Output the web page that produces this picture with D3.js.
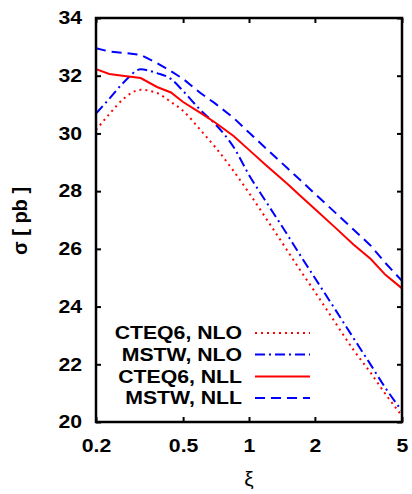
<!DOCTYPE html>
<html>
<head>
<meta charset="utf-8">
<script src="https://cdn.jsdelivr.net/npm/d3@7"></script>
<style>
  body { margin: 0; background: #fff; }
  text { font-family: "Liberation Sans", Arial, sans-serif; }
</style>
</head>
<body>
<div id="chart"></div>
<script>
var width = 412
var height = 494

// data
var xi = [0.2, 0.23, 0.27, 0.32, 0.38, 0.44, 0.5, 0.6, 0.7, 0.85, 1, 1.2, 1.5, 1.7, 2, 2.5, 3, 3.6, 4.2, 5]
var cteqNLO = [30.12, 30.67, 31.23, 31.51, 31.40, 31.09, 30.78, 30.12, 29.53, 28.70, 27.94, 27.04, 25.93, 25.30, 24.51, 23.40, 22.50, 21.70, 20.97, 20.21]
var mstwNLO = [30.69, 31.20, 31.80, 32.22, 32.09, 31.89, 31.47, 30.81, 30.33, 29.53, 28.56, 27.62, 26.48, 25.82, 24.99, 23.85, 22.91, 21.98, 21.18, 20.38]
var cteqNLL = [32.23, 32.06, 31.99, 31.92, 31.61, 31.42, 31.09, 30.71, 30.38, 29.91, 29.43, 28.89, 28.25, 27.87, 27.38, 26.71, 26.15, 25.65, 25.10, 24.63]
var mstwNLL = [32.95, 32.84, 32.79, 32.72, 32.44, 32.16, 31.89, 31.40, 31.04, 30.54, 30.03, 29.47, 28.79, 28.41, 27.91, 27.23, 26.67, 26.11, 25.51, 24.89]

var xTicks = [0.2, 0.5, 1, 2, 5]
var xTickLabels = ['0.2', '0.5', '1', '2', '5']
var yTicks = [20, 22, 24, 26, 28, 30, 32, 34]

var seriesNames = ['CTEQ6, NLO', 'MSTW, NLO', 'CTEQ6, NLL', 'MSTW, NLL']
var seriesValues = [cteqNLO, mstwNLO, cteqNLL, mstwNLL]

var styles = [
  { color: '#ff0000', dash: '2,4', curve: d3.curveMonotoneX },
  { color: '#0000ff', dash: '10,4,2,4', curve: d3.curveMonotoneX },
  { color: '#ff0000', dash: null, curve: d3.curveLinear },
  { color: '#0000ff', dash: '10,6', curve: d3.curveLinear }
]

var stretch = 1.18   // glyphs in the picture are wider than the normal font

var pLeft = 96, pRight = 402, pTop = 18, pBottom = 422

var x = d3.scaleLog().domain([0.2, 5]).range([pLeft, pRight])
var y = d3.scaleLinear().domain([20, 34]).range([pBottom, pTop])

var svg = d3.select('#chart').append('svg')
    .attr('width', width)
    .attr('height', height)

// curves
var plot = svg.append('g')
seriesValues.forEach(function(vals, i) {
  var line = d3.line()
      .x((d, j) => x(xi[j]))
      .y(d => y(d))
      .curve(styles[i].curve)
  plot.append('path')
      .attr('d', line(vals))
      .attr('fill', 'none')
      .attr('stroke', styles[i].color)
      .attr('stroke-width', 2)
      .attr('stroke-dasharray', styles[i].dash)
})

// axes
var fmt = d => xTickLabels[xTicks.indexOf(d)]

var gx = svg.append('g').attr('transform', `translate(0,${pBottom})`)
    .call(d3.axisBottom(x).tickValues(xTicks).tickFormat(fmt).tickSizeInner(-5).tickSizeOuter(0).tickPadding(17))
var gxTop = svg.append('g').attr('transform', `translate(0,${pTop})`)
    .call(d3.axisTop(x).tickValues(xTicks).tickFormat('').tickSizeInner(-5).tickSizeOuter(0))
var gy = svg.append('g').attr('transform', `translate(${pLeft},0)`)
    .call(d3.axisLeft(y).tickValues(yTicks).tickSizeInner(-5).tickSizeOuter(0).tickPadding(14))
var gyRight = svg.append('g').attr('transform', `translate(${pRight},0)`)
    .call(d3.axisRight(y).tickValues(yTicks).tickFormat('').tickSizeInner(-5).tickSizeOuter(0))

svg.selectAll('.domain').remove()
svg.selectAll('.tick line').attr('stroke', '#000').attr('stroke-width', 2)

gx.selectAll('text')
    .attr('font-size', 18).attr('font-weight', 'bold').attr('fill', '#000')
    .attr('font-family', '"Liberation Sans", Arial, sans-serif')
    .attr('transform', `scale(${stretch},1)`)
gx.selectAll('.tick').each(function(d) {
  // keep the label centred on its tick after stretching
  d3.select(this).select('text')
      .attr('transform', `scale(${stretch},1)`)
})
gy.selectAll('text')
    .attr('font-size', 18).attr('font-weight', 'bold').attr('fill', '#000')
    .attr('font-family', '"Liberation Sans", Arial, sans-serif')
    .attr('x', -14 / stretch)
    .attr('transform', `scale(${stretch},1)`)

// frame
svg.append('rect')
    .attr('x', pLeft).attr('y', pTop)
    .attr('width', pRight - pLeft).attr('height', pBottom - pTop)
    .attr('fill', 'none').attr('stroke', '#000').attr('stroke-width', 2.5)

// axis titles
svg.append('text')
    .attr('transform', 'translate(27,221) rotate(-90)')
    .attr('text-anchor', 'middle')
    .attr('font-size', 20).attr('font-weight', 'bold')
    .text('σ [ pb ]')

svg.append('text')
    .attr('x', x(1)).attr('y', 486)
    .attr('text-anchor', 'middle')
    .attr('font-size', 21)
    .attr('font-family', '"DejaVu Serif", serif')
    .text('ξ')

// legend
var legendY = [333, 354.5, 376.5, 398]
var legend = svg.append('g')
seriesNames.forEach(function(name, i) {
  legend.append('text')
      .attr('transform', `translate(242,${legendY[i]}) scale(${stretch},1)`)
      .attr('text-anchor', 'end')
      .attr('dy', '0.36em')
      .attr('font-size', 18).attr('font-weight', 'bold')
      .text(name)
  legend.append('line')
      .attr('x1', 255).attr('x2', 310)
      .attr('y1', legendY[i]).attr('y2', legendY[i])
      .attr('stroke', styles[i].color)
      .attr('stroke-width', 2)
      .attr('stroke-dasharray', styles[i].dash)
})
</script>
</body>
</html>
